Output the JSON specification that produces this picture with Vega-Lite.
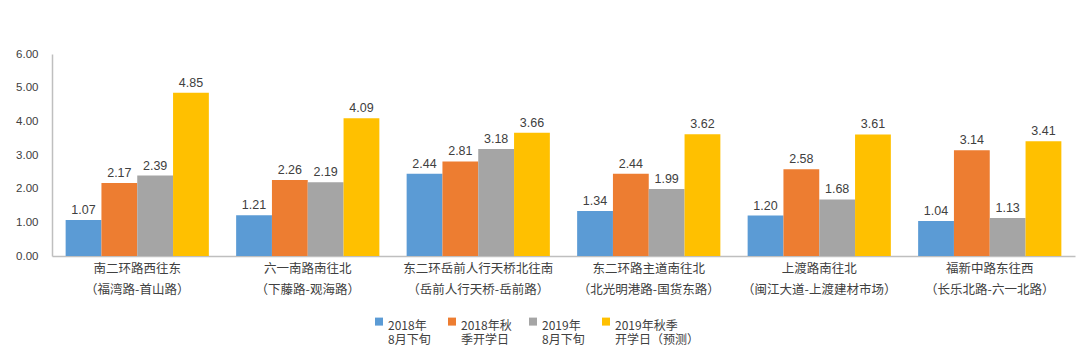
{
  "$schema": "https://vega.github.io/schema/vega-lite/v6.json",
  "autosize": "none",
  "width": 1023,
  "height": 202,
  "padding": {"left": 52, "top": 54, "right": 5, "bottom": 105},
  "background": "white",
  "config": {
    "view": {"stroke": null},
    "font": "Noto Sans CJK SC"
  },
  "data": {
    "values": [
      {"road": "南二环路西往东|（福湾路-首山路）", "s": "2018年|8月下旬", "v": 1.07},
      {"road": "南二环路西往东|（福湾路-首山路）", "s": "2018年秋|季开学日", "v": 2.17},
      {"road": "南二环路西往东|（福湾路-首山路）", "s": "2019年|8月下旬", "v": 2.39},
      {"road": "南二环路西往东|（福湾路-首山路）", "s": "2019年秋季|开学日（预测）", "v": 4.85},
      {"road": "六一南路南往北|（下藤路-观海路）", "s": "2018年|8月下旬", "v": 1.21},
      {"road": "六一南路南往北|（下藤路-观海路）", "s": "2018年秋|季开学日", "v": 2.26},
      {"road": "六一南路南往北|（下藤路-观海路）", "s": "2019年|8月下旬", "v": 2.19},
      {"road": "六一南路南往北|（下藤路-观海路）", "s": "2019年秋季|开学日（预测）", "v": 4.09},
      {"road": "东二环岳前人行天桥北往南|（岳前人行天桥-岳前路）", "s": "2018年|8月下旬", "v": 2.44},
      {"road": "东二环岳前人行天桥北往南|（岳前人行天桥-岳前路）", "s": "2018年秋|季开学日", "v": 2.81},
      {"road": "东二环岳前人行天桥北往南|（岳前人行天桥-岳前路）", "s": "2019年|8月下旬", "v": 3.18},
      {"road": "东二环岳前人行天桥北往南|（岳前人行天桥-岳前路）", "s": "2019年秋季|开学日（预测）", "v": 3.66},
      {"road": "东二环路主道南往北|（北光明港路-国货东路）", "s": "2018年|8月下旬", "v": 1.34},
      {"road": "东二环路主道南往北|（北光明港路-国货东路）", "s": "2018年秋|季开学日", "v": 2.44},
      {"road": "东二环路主道南往北|（北光明港路-国货东路）", "s": "2019年|8月下旬", "v": 1.99},
      {"road": "东二环路主道南往北|（北光明港路-国货东路）", "s": "2019年秋季|开学日（预测）", "v": 3.62},
      {"road": "上渡路南往北|（闽江大道-上渡建材市场）", "s": "2018年|8月下旬", "v": 1.20},
      {"road": "上渡路南往北|（闽江大道-上渡建材市场）", "s": "2018年秋|季开学日", "v": 2.58},
      {"road": "上渡路南往北|（闽江大道-上渡建材市场）", "s": "2019年|8月下旬", "v": 1.68},
      {"road": "上渡路南往北|（闽江大道-上渡建材市场）", "s": "2019年秋季|开学日（预测）", "v": 3.61},
      {"road": "福新中路东往西|（长乐北路-六一北路）", "s": "2018年|8月下旬", "v": 1.04},
      {"road": "福新中路东往西|（长乐北路-六一北路）", "s": "2018年秋|季开学日", "v": 3.14},
      {"road": "福新中路东往西|（长乐北路-六一北路）", "s": "2019年|8月下旬", "v": 1.13},
      {"road": "福新中路东往西|（长乐北路-六一北路）", "s": "2019年秋季|开学日（预测）", "v": 3.41}
    ]
  },
  "encoding": {
    "x": {
      "field": "road", "type": "nominal", "sort": null,
      "scale": {"paddingInner": 0.16, "paddingOuter": 0.08},
      "axis": {
        "title": null, "labelAngle": 0, "ticks": false,
        "labelExpr": "split(datum.value, '|')",
        "labelFontSize": 12.5, "labelColor": "#404040", "labelLineHeight": 21,
        "labelPadding": 6, "labelBaseline": "top",
        "domainColor": "#BFBFBF", "domainWidth": 1.5
      }
    },
    "xOffset": {"field": "s", "type": "nominal", "sort": null},
    "y": {
      "field": "v", "type": "quantitative",
      "scale": {"domain": [0, 6], "nice": false},
      "axis": {
        "title": null, "values": [0, 1, 2, 3, 4, 5, 6], "format": ".2f",
        "grid": false, "ticks": false, "labelPadding": 14,
        "labelFont": "Liberation Sans", "labelFontSize": 11.5, "labelColor": "#404040",
        "domainColor": "#BFBFBF", "domainWidth": 1.5
      }
    }
  },
  "layer": [
    {
      "mark": {"type": "bar"},
      "encoding": {
        "color": {
          "field": "s", "type": "nominal", "sort": null,
          "scale": {"range": ["#5B9BD5", "#ED7D31", "#A5A5A5", "#FFC000"]},
          "legend": {
            "title": null, "orient": "none", "direction": "horizontal",
            "legendX": 321, "legendY": 266,
            "labelExpr": "split(datum.value, '|')",
            "labelFontSize": 12, "labelColor": "#404040", "labelLineHeight": 17,
            "symbolType": "M-1,-2.1H1V-0.1H-1Z", "symbolSize": 64, "symbolStrokeWidth": 0,
            "labelOffset": 3, "columnPadding": 15
          }
        }
      }
    },
    {
      "mark": {"type": "text", "dy": -10, "fontSize": 12.5, "font": "Liberation Sans", "color": "#404040"},
      "encoding": {
        "text": {"field": "v", "type": "quantitative", "format": ".2f"}
      }
    }
  ]
}
